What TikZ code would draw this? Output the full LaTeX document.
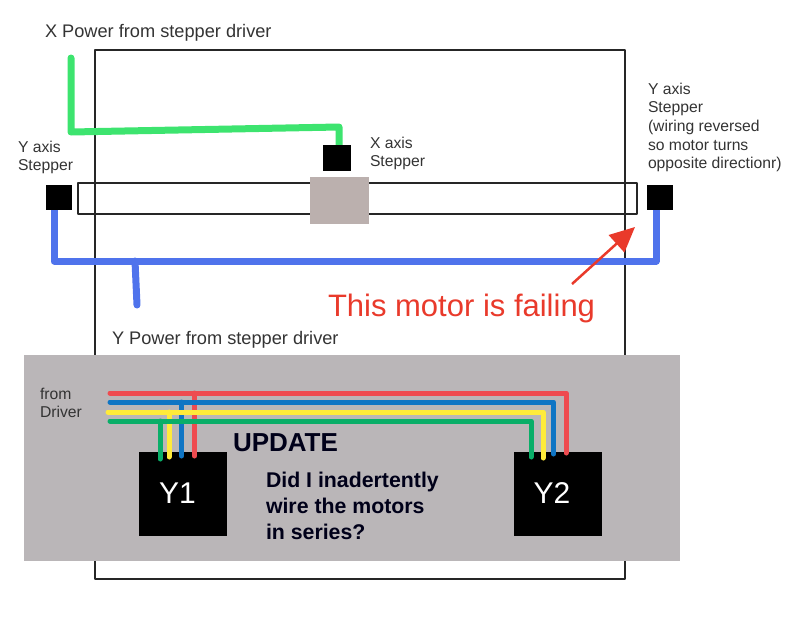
\documentclass[tikz,border=0pt]{standalone}
\usepackage{fontspec}
\setmainfont{Liberation Sans}
\usetikzlibrary{calc,arrows.meta}

\definecolor{wiregreen}{HTML}{3DE46F}
\definecolor{wireblue}{HTML}{4F73EC}
\definecolor{panelgrey}{HTML}{BAB6B8}
\definecolor{slidegrey}{HTML}{BBB0AE}
\definecolor{failred}{HTML}{E93A2B}
\definecolor{leadred}{HTML}{EE4B50}
\definecolor{leadblue}{HTML}{0F75C4}
\definecolor{leadyellow}{HTML}{FFEB3A}
\definecolor{leadgreen}{HTML}{09AE68}

\begin{document}
\begin{tikzpicture}[x=1pt, y=-1pt, line cap=round, line join=round]
	\useasboundingbox (0,0) rectangle (800,624);
	\tikzset{
		box/.style={rectangle, inner sep=0pt, outer sep=0pt},
		outline/.style={box, draw=black!85, line width=1.8pt},
		stepper/.style={box, fill=black},
		motor/.style={box, fill=black, minimum width=88pt, minimum height=84pt},
		motorlab/.style={inner sep=0pt, outer sep=0pt, text=white, font=\fontsize{30}{31}\selectfont},
		lab/.style={inner sep=0pt, outer sep=0pt, text=black!80, align=left, font=\fontsize{15.7}{18.6}\selectfont},
		biglab/.style={inner sep=0pt, outer sep=0pt, text=black!80, font=\fontsize{18.2}{20}\selectfont},
		boldlab/.style={inner sep=0pt, outer sep=0pt, text=black!90!blue, font=\bfseries\fontsize{21.3}{26}\selectfont, align=left},
		powerwire/.style={line width=7pt},
		lead/.style={line width=5pt}
	}

	% --- frame, rail and carriage
	\node[outline, minimum width=530pt, minimum height=529pt] (frame) at (360,314.5) {};
	\node[outline, minimum width=559pt, minimum height=31pt] (rail) at (357.5,198.5) {};
	\node[box, fill=slidegrey, minimum width=59pt, minimum height=47pt] (carriage) at (339.5,200.5) {};

	% --- coordinates for the power wires
	\coordinate (XP)  at (71,58);
	\coordinate (XP1) at (71,132);
	\coordinate (XP2) at (339,127);
	\coordinate (XP3) at (339,146);

	\coordinate (YP1) at (54,209);
	\coordinate (YP2) at (54,261);
	\coordinate (YP3) at (656,261);
	\coordinate (YP4) at (656,209);
	\coordinate (YT)  at (135,261);
	\coordinate (YE)  at (137,305);

	\draw[powerwire, wiregreen] (XP) -- (XP1) -- (XP2) -- (XP3);
	\draw[powerwire, wireblue] (YP1) -- (YP2) -- (YP3) -- (YP4);
	\draw[powerwire, wireblue] (YT) -- (YE);

	% --- steppers
	\node[stepper, minimum width=28pt, minimum height=26pt] (xstep) at (337,158) {};
	\node[stepper, minimum width=26pt, minimum height=25pt] (ystepL) at (59,197.5) {};
	\node[stepper, minimum width=26pt, minimum height=25pt] (ystepR) at (659.5,197.5) {};

	% --- labels near the frame
	\node[biglab, anchor=base west] (xpower) at (45,37) {X Power from stepper driver};
	\node[biglab, anchor=base west] (ypower) at (112,344) {Y Power from stepper driver};
	\node[lab, anchor=north west] (ylabL) at (18,141) {Y axis\\Stepper};
	\node[lab, anchor=north west] (xlab) at (370,137) {X axis\\Stepper};
	\node[lab, anchor=north west] (ylabR) at (648,83) {Y axis\\Stepper\\(wiring reversed\\so motor turns\\opposite directionr)};

	% --- failing motor note
	\node[inner sep=0pt, outer sep=0pt, text=failred, anchor=base west, font=\fontsize{31}{32}\selectfont] (failing) at (328,316) {This motor is failing};
	\coordinate (FA) at (572,284);
	\coordinate (FB) at (635,227);
	\draw[-{Triangle[length=25pt,width=23pt]}, failred, line width=2.5pt, line cap=butt] (FA) -- (FB);

	% --- update panel
	\node[box, fill=panelgrey, minimum width=656pt, minimum height=206pt] (panel) at (352,458) {};
	\node[motor] (Y1) at (183,494) {};
	\node[motor] (Y2) at (558,494) {};
	\node[motorlab] (Y1lab) at (177.5,493.5) {Y1};
	\node[motorlab] (Y2lab) at (552,493.5) {Y2};

	\coordinate (RL) at (110,393);
	\coordinate (RR) at (566,393);
	\coordinate (RD) at (566,453);
	\coordinate (BL) at (110,402);
	\coordinate (BR) at (553.5,402);
	\coordinate (BD) at (553.5,454);
	\coordinate (EL) at (108,412);
	\coordinate (ER) at (543,412);
	\coordinate (ED) at (543,458);
	\coordinate (GL) at (110,421);
	\coordinate (GR) at (531,421);
	\coordinate (GD) at (531,457);

	\coordinate (R1) at (194.5,393);
	\coordinate (R2) at (194.5,456);
	\coordinate (B1) at (181.5,402);
	\coordinate (B2) at (181.5,456);
	\coordinate (E1) at (169,412);
	\coordinate (E2) at (169,457);
	\coordinate (G1) at (160,421);
	\coordinate (G2) at (160,459);

	\draw[lead, leadred] (R1) -- (R2);
	\draw[lead, leadred] (RL) -- (RR) -- (RD);
	\draw[lead, leadblue] (B1) -- (B2);
	\draw[lead, leadblue] (BL) -- (BR) -- (BD);
	\draw[lead, leadyellow] (E1) -- (E2);
	\draw[lead, leadyellow] (EL) -- (ER) -- (ED);
	\draw[lead, leadgreen] (G1) -- (G2);
	\draw[lead, leadgreen] (GL) -- (GR) -- (GD);

	% --- panel texts
	\node[lab, anchor=north west] (fromlab) at (40,388) {from\\Driver};
	\node[inner sep=0pt, outer sep=0pt, text=black!90!blue, anchor=base west, font=\bfseries\fontsize{26}{27}\selectfont] (update) at (233,451) {UPDATE};
	\node[boldlab, anchor=north west] (question) at (266,472) {Did I inadertently\\wire the motors\\in series?};
\end{tikzpicture}
\end{document}
